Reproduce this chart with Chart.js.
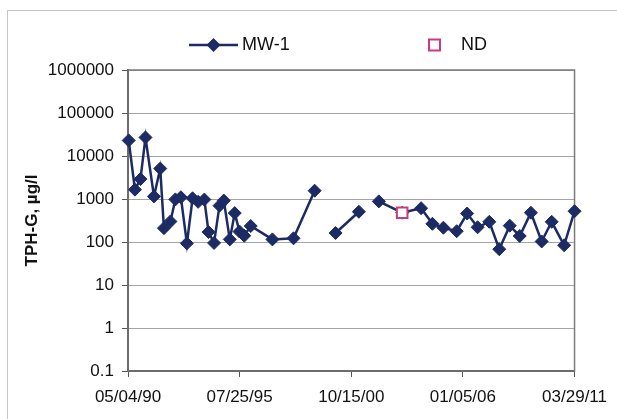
<!DOCTYPE html>
<html>
<head>
<meta charset="utf-8">
<script src="https://cdn.jsdelivr.net/npm/chart.js@4.4.1/dist/chart.umd.min.js"></script>
<style>
  html, body { margin: 0; padding: 0; background: #fff; }
</style>
</head>
<body>
<canvas id="chart" width="617" height="419"></canvas>
<script>
// sampling dates (MM/DD/YY) and TPH-G results for MW-1; null breaks the line
const sampleDates = [
    '05/16/90', '08/31/90', '12/03/90', '02/27/91', '07/22/91', '11/06/91',
    '01/08/92', '04/28/92', '07/22/92', '10/24/92', '02/04/93', '05/12/93',
    '08/15/93', '11/29/93', '02/09/94', '05/14/94', '08/15/94', '10/28/94',
    '02/07/95', '05/03/95', '07/23/95', '10/12/95', '01/31/96', '02/05/97',
    '02/01/98', '01/28/99', '07/15/99', '01/21/00', '02/22/01', '08/01/01',
    '01/29/02', '03/04/03', '01/22/04', '08/02/04', '02/06/05', '09/21/05',
    '03/19/06', '09/14/06', '04/02/07', '09/19/07', '03/16/08', '09/03/08',
    '03/13/09', '09/13/09', '03/03/10', '10/02/10', '03/29/11'
];
const mw1Values = [
    23000, 1650, 2900, 27000, 1150, 5100,
    210, 300, 980, 1100, 93, 1040,
    860, 970, 170, 95, 700, 920,
    115, 470, 175, 140, 235, 115,
    122, 1560, null, 162, 505, null,
    880, 480, 610, 265, 215, 178,
    460, 220, 295, 68, 240, 138,
    480, 103, 295, 84, 520
];

// non-detect results
const ndDates = ['03/04/03'];
const ndValues = [480];

const xTickLabels = ['05/04/90', '07/25/95', '10/15/00', '01/05/06', '03/29/11'];
const yTickValues = [0.1, 1, 10, 100, 1000, 10000, 100000, 1000000];

const navy = '#1c2b64';
const magenta = '#cc3a7e';
const fontName = "'Liberation Sans', Arial, sans-serif";

//turn MM/DD/YY into a timestamp
function parseDate(s) {
    const [m, d, y] = s.split('/').map(Number);
    const year = y < 50 ? 2000 + y : 1900 + y;
    return Date.UTC(year, m - 1, d);
}

const xTickValues = xTickLabels.map(parseDate);
const mw1Points = sampleDates.map((d, i) => ({ x: parseDate(d), y: mw1Values[i] }));
const ndPoints = ndDates.map((d, i) => ({ x: parseDate(d), y: ndValues[i] }));

// outer frame, plot box and the legend row
const framePlugin = {
    id: 'framePlugin',
    beforeDraw(chart) {
        const ctx = chart.ctx;
        ctx.save();
        ctx.strokeStyle = '#c6c6c6';
        ctx.lineWidth = 1;
        ctx.strokeRect(7.5, 10.5, chart.width + 20, chart.height + 20);
        ctx.restore();
    },
    beforeDatasetsDraw(chart) {
        const { left, top, right, bottom } = chart.chartArea;
        const ctx = chart.ctx;
        ctx.save();
        ctx.strokeStyle = '#7a7a7a';
        ctx.lineWidth = 1.5;
        ctx.strokeRect(left, top, right - left, bottom - top);
        ctx.restore();
    },
    afterDraw(chart) {
        const ctx = chart.ctx;
        const ly = 45;
        ctx.save();
        ctx.font = '18px ' + fontName;
        ctx.textBaseline = 'middle';
        // MW-1 line sample
        ctx.strokeStyle = navy;
        ctx.lineWidth = 2.5;
        ctx.beginPath();
        ctx.moveTo(189, ly);
        ctx.lineTo(238, ly);
        ctx.stroke();
        ctx.fillStyle = navy;
        ctx.beginPath();
        ctx.moveTo(213.5, ly - 7);
        ctx.lineTo(220.5, ly);
        ctx.lineTo(213.5, ly + 7);
        ctx.lineTo(206.5, ly);
        ctx.closePath();
        ctx.fill();
        ctx.fillStyle = '#111';
        ctx.fillText('MW-1', 242, ly);
        // ND sample
        ctx.strokeStyle = magenta;
        ctx.lineWidth = 2;
        ctx.strokeRect(429, ly - 5.5, 11, 11);
        ctx.fillText('ND', 461, ly);
        ctx.restore();
    }
};

const ctx = document.getElementById('chart').getContext('2d');
new Chart(ctx, {
    type: 'line',
    data: {
        datasets: [
            {
                label: 'MW-1',
                data: mw1Points,
                borderColor: navy,
                backgroundColor: navy,
                borderWidth: 2.5,
                pointStyle: 'rectRot',
                pointRadius: 6.5,
                pointBorderWidth: 1,
                pointBorderColor: navy,
                pointBackgroundColor: navy,
                spanGaps: false,
                tension: 0,
                clip: false,
                order: 2
            },
            {
                label: 'ND',
                data: ndPoints,
                showLine: false,
                pointStyle: 'rect',
                pointRadius: 7.5,
                pointBorderWidth: 2,
                pointBorderColor: magenta,
                pointBackgroundColor: '#fff',
                clip: false,
                order: 1
            }
        ]
    },
    options: {
        responsive: false,
        animation: false,
        layout: { padding: { top: 0, right: 41, bottom: 0, left: 0 } },
        plugins: {
            legend: { display: false },
            tooltip: { enabled: false }
        },
        scales: {
            x: {
                type: 'linear',
                min: xTickValues[0],
                max: xTickValues[xTickValues.length - 1],
                afterBuildTicks: scale => { scale.ticks = xTickValues.map(v => ({ value: v })); },
                afterFit: scale => { scale.height = 48; },
                ticks: {
                    autoSkip: false,
                    maxRotation: 0,
                    padding: 10,
                    color: '#111',
                    font: { family: fontName, size: 17 },
                    callback: (value, index) => xTickLabels[index]
                },
                grid: {
                    drawOnChartArea: false,
                    drawTicks: true,
                    tickLength: 6,
                    tickColor: '#555'
                },
                border: { color: '#444', width: 2 }
            },
            y: {
                type: 'logarithmic',
                min: yTickValues[0],
                max: yTickValues[yTickValues.length - 1],
                afterBuildTicks: scale => { scale.ticks = yTickValues.map(v => ({ value: v })); },
                afterFit: scale => { scale.width = 128; },
                ticks: {
                    autoSkip: false,
                    padding: 8,
                    color: '#111',
                    font: { family: fontName, size: 17 },
                    callback: value => String(value)
                },
                grid: {
                    color: '#a4a4a4',
                    lineWidth: 1,
                    drawTicks: true,
                    tickLength: 6,
                    tickColor: '#555'
                },
                border: { color: '#444', width: 2 },
                title: {
                    display: true,
                    text: 'TPH-G, µg/l',
                    color: '#111',
                    font: { family: fontName, size: 17, weight: 'bold' },
                    padding: { top: 22, bottom: 0 }
                }
            }
        }
    },
    plugins: [framePlugin, {
        id: 'fixedTop',
        beforeInit(chart) {
            chart.options.layout.padding.top = 70;
        }
    }]
});
</script>
</body>
</html>
